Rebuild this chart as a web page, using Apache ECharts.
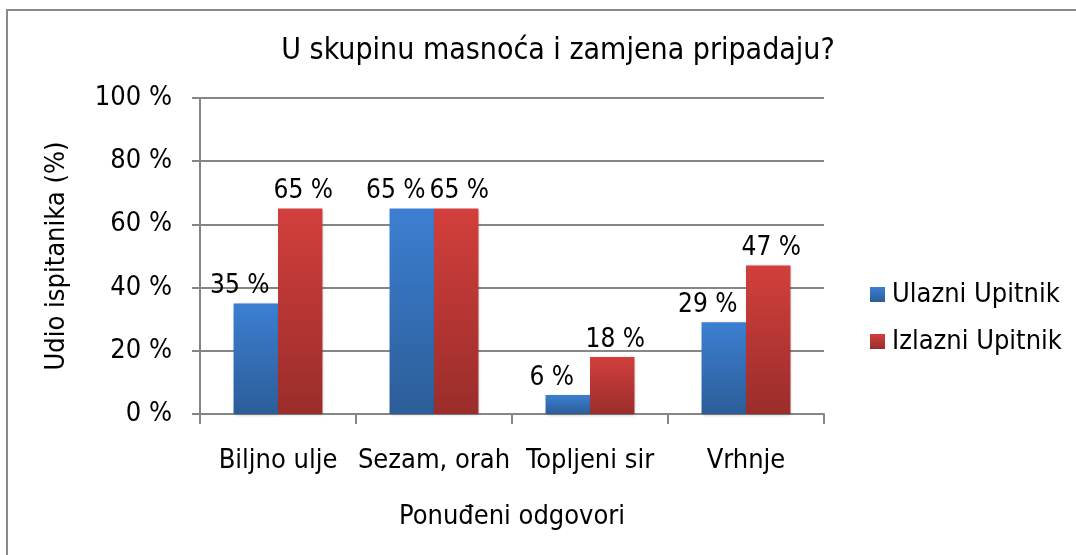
<!DOCTYPE html>
<html>
<head>
<meta charset="utf-8">
<script src="https://cdn.jsdelivr.net/npm/echarts@6/dist/echarts.min.js"></script>
<style>html,body{margin:0;padding:0;background:#fff}#c{width:1076px;height:555px}</style>
</head>
<body>
<div id="c"></div>
<script>
var categories = ['Biljno ulje', 'Sezam, orah', 'Topljeni sir', 'Vrhnje'];
var ulazni = [35, 65, 6, 29];
var izlazni = [65, 65, 18, 47];
var yTicks = [0, 20, 40, 60, 80, 100];

var FONT = 'DejaVu Sans Condensed';
var FS = 27;
var chart = echarts.init(document.getElementById('c'));
function grad(top, bottom) {
  return new echarts.graphic.LinearGradient(0, 0, 0, 1, [
    {offset: 0, color: top}, {offset: 1, color: bottom}
  ]);
}
chart.setOption({
  animation: false,
  backgroundColor: '#fff',
  textStyle: {fontFamily: FONT, color: '#000'},
  graphic: [{
    type: 'rect', silent: true, z: -10,
    shape: {x: 7, y: 10, width: 1200, height: 700},
    style: {fill: 'none', stroke: '#8a8a8a', lineWidth: 2}
  }],
  title: {
    text: 'U skupinu masnoća i zamjena pripadaju?',
    left: 553, textAlign: 'center', top: 31,
    textStyle: {fontFamily: FONT, fontSize: 30, fontWeight: 'normal', color: '#000'}
  },
  legend: {
    orient: 'vertical', left: 865, top: 276,
    itemWidth: 15, itemHeight: 15, itemGap: 20,
    icon: 'rect',
    textStyle: {fontFamily: FONT, fontSize: FS, color: '#000', padding: [0, 0, 0, 2]},
    data: ['Ulazni Upitnik', 'Izlazni Upitnik']
  },
  grid: {left: 200, right: 252, top: 98, bottom: 141, containLabel: false},
  xAxis: {
    type: 'category', data: categories,
    name: 'Ponuđeni odgovori', nameLocation: 'middle', nameGap: 89,
    nameTextStyle: {fontFamily: FONT, fontSize: FS, color: '#000'},
    axisLine: {lineStyle: {color: '#868686', width: 2}},
    axisTick: {show: true, interval: 0, length: 10, lineStyle: {color: '#868686', width: 2}},
    axisLabel: {interval: 0, hideOverlap: false, fontFamily: FONT, fontSize: FS, color: '#000', margin: 33}
  },
  yAxis: {
    type: 'value', min: 0, max: 100, interval: 20,
    name: 'Udio ispitanika (%)', nameLocation: 'middle', nameGap: 130,
    nameTextStyle: {fontFamily: FONT, fontSize: FS, color: '#000'},
    axisLine: {show: true, lineStyle: {color: '#868686', width: 2}},
    axisTick: {show: true, length: 8, lineStyle: {color: '#868686', width: 2}},
    splitLine: {lineStyle: {color: '#868686', width: 2}},
    axisLabel: {fontFamily: FONT, fontSize: FS, color: '#000', margin: 28,
      formatter: function (v) { return yTicks.indexOf(v) >= 0 ? v + ' %' : ''; }}
  },
  series: [{
    name: 'Ulazni Upitnik', type: 'bar', data: ulazni,
    barGap: '0%', barCategoryGap: '43%',
    itemStyle: {color: grad('#3c7fd2', '#2c5d98'), shadowColor: 'rgba(0,0,0,0.25)', shadowBlur: 3, shadowOffsetX: 1, shadowOffsetY: 1},
    label: {show: true, position: 'top', distance: 4, offset: [-16, 0], formatter: '{c} %',
      fontFamily: FONT, fontSize: 26, color: '#000'}
  }, {
    name: 'Izlazni Upitnik', type: 'bar', data: izlazni,
    barGap: '0%', barCategoryGap: '43%',
    itemStyle: {color: grad('#d23f3c', '#9a2d2b'), shadowColor: 'rgba(0,0,0,0.25)', shadowBlur: 3, shadowOffsetX: 1, shadowOffsetY: 1},
    label: {show: true, position: 'top', distance: 4, offset: [3, 0], formatter: '{c} %',
      fontFamily: FONT, fontSize: 26, color: '#000'}
  }]
});
</script>
</body>
</html>
